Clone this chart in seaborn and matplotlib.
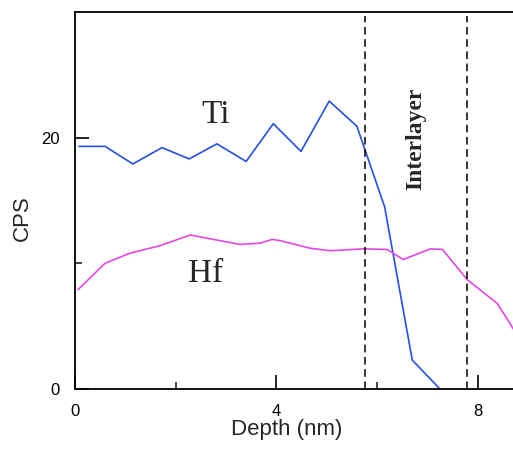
import matplotlib
matplotlib.use("Agg")
import matplotlib.pyplot as plt
from matplotlib.ticker import FixedLocator
import seaborn as sns
import pandas as pd

# Depth profile counts (CPS) for Ti and Hf
ti_depth = [0.08, 0.6, 1.15, 1.73, 2.27, 2.82, 3.4, 3.94, 4.49, 5.05, 5.6, 6.15, 6.7, 7.25]
ti_cps = [19.3, 19.3, 17.9, 19.2, 18.3, 19.5, 18.1, 21.1, 18.9, 22.9, 20.9, 14.5, 2.3, 0.0]

hf_depth = [0.06, 0.6, 1.09, 1.69, 2.29, 2.62, 3.28, 3.68, 3.92, 4.08, 4.67, 5.07,
            5.73, 6.2, 6.52, 7.06, 7.3, 7.79, 8.39, 8.75]
hf_cps = [7.9, 10.0, 10.8, 11.4, 12.25, 12.0, 11.5, 11.6, 11.9, 11.8, 11.2, 11.0,
          11.15, 11.1, 10.3, 11.15, 11.1, 8.7, 6.8, 4.5]

interlayer_bounds = [5.77, 7.79]

x_major = [0, 4, 8]
x_minor = [2, 6]
y_major = [0, 20]
y_minor = [10]

sns.set_style("ticks")
plt.rcParams["font.family"] = ["Liberation Sans", "DejaVu Sans"]

ti = pd.DataFrame({"Depth": ti_depth, "CPS": ti_cps})
hf = pd.DataFrame({"Depth": hf_depth, "CPS": hf_cps})

fig = plt.figure(figsize=(5.13, 4.55), dpi=100)
ax = fig.add_axes([0.146, 0.145, 0.854, 0.829])

sns.lineplot(data=ti, x="Depth", y="CPS", color="#2450e8", linewidth=1.2, ax=ax)
sns.lineplot(data=hf, x="Depth", y="CPS", color="#e646e6", linewidth=1.2, ax=ax)

for xb in interlayer_bounds:
    ax.axvline(xb, ymin=0, ymax=0.99, color="black", linestyle=(0, (5, 3)), linewidth=1.1)

serif = ["Liberation Serif", "DejaVu Serif"]
ax.text(2.8, 21.8, "Ti", family=serif, fontsize=24, ha="center", va="center")
ax.text(2.6, 9.2, "Hf", family=serif, fontsize=24, ha="center", va="center")
ax.text(6.76, 19.9, "Interlayer", family=serif, fontsize=17, fontweight="bold",
        rotation=90, ha="center", va="center")

ax.set_xlim(0, 8.7)
ax.set_ylim(0, 30)
ax.xaxis.set_major_locator(FixedLocator(x_major))
ax.xaxis.set_minor_locator(FixedLocator(x_minor))
ax.yaxis.set_major_locator(FixedLocator(y_major))
ax.yaxis.set_minor_locator(FixedLocator(y_minor))
ax.tick_params(which="major", direction="in", length=10, width=1.2, labelsize=12,
               colors="black", pad=11)
ax.tick_params(which="minor", direction="in", length=5, width=1.2)

ax.set_xlabel("Depth (nm)", fontsize=16)
ax.set_ylabel("CPS", fontsize=16)
ax.xaxis.set_label_coords(0.484, -0.08)
ax.yaxis.set_label_coords(-0.096, 0.454)

for side in ("left", "bottom", "top"):
    ax.spines[side].set_linewidth(1.3)
    ax.spines[side].set_color("black")
ax.spines["right"].set_visible(False)

fig.savefig("out.png", dpi=100)
